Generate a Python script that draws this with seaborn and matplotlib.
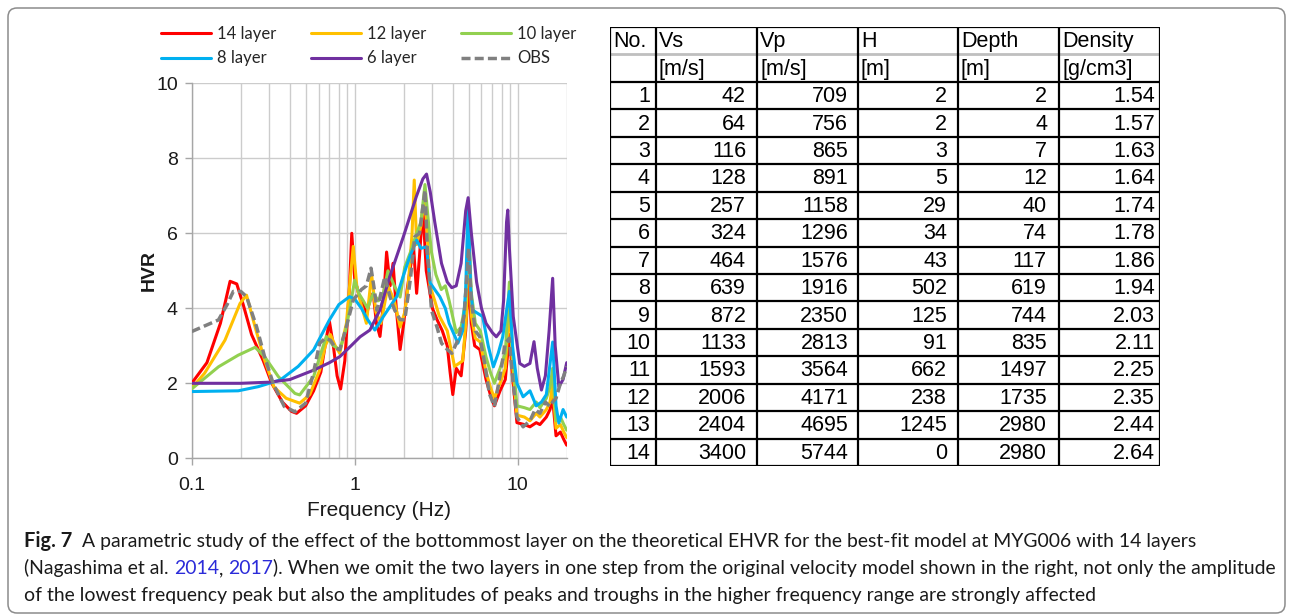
import numpy as np
import pandas as pd
import matplotlib
matplotlib.use("Agg")
import matplotlib.pyplot as plt
import seaborn as sns
from matplotlib import font_manager
from matplotlib.patches import FancyBboxPatch
from matplotlib.transforms import IdentityTransform
from matplotlib.ticker import LogLocator, NullFormatter, FixedLocator

# ---------------- data ----------------
f14 = [0.1, 0.124, 0.15, 0.172, 0.189, 0.207, 0.233, 0.275, 0.31, 0.36, 0.41, 0.44, 0.5, 0.56, 0.62, 0.67, 0.70, 0.74,
       0.78, 0.82, 0.87, 0.93, 0.96, 1.0, 1.07, 1.13, 1.18, 1.25, 1.3, 1.36, 1.43, 1.5, 1.57, 1.65, 1.72, 1.8, 1.9,
       2.0, 2.1, 2.2, 2.3, 2.4, 2.5, 2.62, 2.75, 2.85, 3.0, 3.2, 3.45, 3.7, 3.85, 4.0, 4.2, 4.5, 4.8, 5.0, 5.2, 5.45,
       5.86, 6.4, 6.8, 7.2, 7.8, 8.4, 8.9, 9.3, 9.9, 11.0, 11.9, 13.0, 13.7, 15.0, 15.8, 16.4, 17.2, 18.3, 19.2, 20.0]
hvr14 = [2.0, 2.55, 3.6, 4.72, 4.65, 4.1, 3.3, 2.6, 2.0, 1.5, 1.25, 1.2, 1.4, 1.8, 2.3, 3.2, 3.65, 3.0,
         2.2, 1.85, 2.6, 4.6, 6.0, 4.8, 4.3, 4.1, 3.8, 4.3, 4.4, 3.6, 3.25, 4.1, 5.5, 4.6, 5.2, 4.0, 2.9,
         3.6, 4.5, 5.1, 5.6, 4.4, 5.4, 6.7, 5.0, 4.6, 4.0, 3.7, 3.4, 3.0, 2.3, 1.7, 2.4, 2.2, 3.4, 4.7, 3.6, 3.0,
         2.9, 2.1, 1.7, 1.4, 1.8, 2.1, 3.3, 2.2, 0.95, 0.9, 0.84, 0.95, 0.9, 1.1, 1.3, 1.6, 0.6, 0.7, 0.5, 0.35]

f12 = [0.1, 0.12, 0.16, 0.198, 0.217, 0.245, 0.28, 0.32, 0.38, 0.46, 0.53, 0.61, 0.66, 0.71, 0.76, 0.81, 0.89, 0.94,
       0.98, 1.03, 1.08, 1.18, 1.27, 1.35, 1.45, 1.6, 1.75, 1.9, 2.03, 2.13, 2.25, 2.32, 2.4, 2.55, 2.7, 2.82, 2.9,
       3.1, 3.3, 3.7, 4.1, 4.6, 4.85, 5.0, 5.2, 5.5, 5.9, 6.4, 6.8, 7.2, 7.8, 8.4, 8.9, 9.3, 9.9, 11.0, 11.9, 13.0,
       13.7, 15.0, 15.8, 16.4, 17.2, 18.3, 19.2, 20.0]
hvr12 = [1.87, 2.27, 3.15, 4.13, 4.35, 3.5, 2.62, 1.9, 1.6, 1.47, 1.7, 2.35, 3.0, 3.3, 3.0, 2.8, 3.6, 4.8,
         5.65, 4.6, 4.2, 3.6, 4.9, 3.9, 3.6, 4.6, 4.2, 3.5, 3.9, 4.6, 6.0, 7.42, 5.7, 6.2, 7.05, 5.6, 4.6,
         4.2, 3.8, 3.4, 2.45, 2.6, 3.8, 6.4, 3.8, 3.2, 3.1, 2.3, 1.9, 1.6, 2.0, 2.4, 4.1, 2.5, 1.15, 1.1, 1.0, 1.2,
         1.1, 1.3, 1.5, 2.0, 0.8, 0.9, 0.7, 0.55]

f10 = [0.1, 0.146, 0.193, 0.245, 0.28, 0.34, 0.43, 0.46, 0.56, 0.62, 0.67, 0.74, 0.81, 0.88, 0.93, 1.0, 1.06, 1.13,
       1.2, 1.3, 1.4, 1.5, 1.6, 1.75, 1.9, 2.03, 2.2, 2.4, 2.55, 2.7, 2.85, 2.96, 3.15, 3.4, 3.6, 3.8, 4.2, 4.5,
       4.8, 5.0, 5.2, 5.5, 5.9, 6.4, 6.8, 7.2, 7.8, 8.4, 8.9, 9.3, 9.9, 11.0, 11.9, 13.0, 13.7, 15.0, 15.8, 16.4,
       17.2, 18.3, 19.2, 20.0]
hvr10 = [1.85, 2.44, 2.75, 2.96, 2.71, 2.18, 1.73, 1.69, 2.18, 2.8, 3.25, 3.0, 2.9, 3.4, 3.95, 4.75, 4.4, 4.2,
         4.0, 4.4, 4.2, 4.4, 5.0, 4.6, 4.3, 5.1, 5.5, 6.0, 6.3, 7.3, 6.2, 5.5, 4.9, 4.5, 4.6, 4.2, 3.35, 3.5,
         4.2, 6.1, 4.4, 3.6, 3.4, 2.7, 2.3, 2.0, 2.4, 2.8, 4.7, 2.8, 1.4, 1.35, 1.3, 1.5, 1.35, 1.6, 1.9, 2.4,
         1.0, 1.1, 0.9, 0.75]

f8 = [0.1, 0.193, 0.256, 0.35, 0.45, 0.56, 0.7, 0.8, 0.93, 1.0, 1.1, 1.2, 1.33, 1.5, 1.81, 2.0, 2.18, 2.4, 2.55,
      2.76, 2.91, 3.1, 3.33, 3.6, 3.8, 4.3, 4.6, 4.8, 4.97, 5.15, 5.3, 6.1, 6.6, 7.1, 7.6, 8.1, 8.9, 9.3, 9.9,
      10.8, 11.9, 13.0, 14.0, 15.0, 16.4, 17.2, 17.9, 19.0, 20.0]
hvr8 = [1.78, 1.8, 1.91, 2.09, 2.45, 2.89, 3.69, 4.1, 4.31, 4.25, 4.0, 3.7, 3.42, 3.78, 4.31, 4.9, 5.38, 5.82, 5.6,
        5.64, 4.67, 4.5, 4.31, 4.0, 3.6, 3.07, 3.4, 4.5, 6.85, 4.5, 3.95, 3.78, 3.0, 2.44, 2.8, 3.24, 4.45, 3.0, 2.0,
        1.64, 1.8, 1.4, 1.5, 1.7, 3.1, 1.4, 0.94, 1.3, 1.1]

f6 = [0.1, 0.2, 0.3, 0.4, 0.56, 0.7, 0.81, 0.95, 1.08, 1.24, 1.43, 1.64, 1.99, 2.39, 2.62, 2.76, 2.91, 3.1, 3.41,
      3.7, 3.94, 4.2, 4.5, 4.8, 4.97, 5.2, 5.6, 6.0, 6.4, 7.0, 7.4, 7.9, 8.2, 8.55, 8.7, 8.9, 9.4, 10.3, 11.0,
      11.9, 12.6, 13.2, 14.0, 14.8, 15.6, 16.4, 17.0, 17.9, 19.0, 20.0]
hvr6 = [2.0, 2.0, 2.03, 2.1, 2.35, 2.55, 2.71, 3.0, 3.24, 3.42, 3.96, 4.84, 5.91, 6.98, 7.45, 7.58, 7.1, 6.3, 5.2,
        4.7, 4.55, 4.6, 5.2, 6.6, 6.95, 6.0, 4.7, 4.0, 3.6, 3.35, 3.24, 3.4, 4.2, 6.3, 6.62, 5.6, 3.78, 2.53, 2.45,
        2.53, 3.11, 2.4, 1.82, 2.2, 3.4, 4.8, 3.0, 1.91, 2.1, 2.55]

fobs = [0.1, 0.146, 0.165, 0.18, 0.2, 0.217, 0.25, 0.28, 0.316, 0.37, 0.43, 0.5, 0.56, 0.61, 0.66, 0.71, 0.76, 0.81,
        0.89, 0.98, 1.1, 1.18, 1.26, 1.32, 1.37, 1.45, 1.53, 1.65, 1.76, 1.9, 2.03, 2.2, 2.34, 2.5, 2.7, 2.8, 2.96,
        3.2, 3.41, 3.7, 3.94, 4.3, 4.7, 5.0, 5.2, 5.5, 5.86, 6.3, 6.7, 7.2, 7.8, 8.4, 8.9, 9.1, 9.5, 9.9, 10.8,
        11.9, 12.8, 13.7, 14.8, 15.8, 16.4, 17.2, 18.3, 19.2, 20.0]
hvrobs = [3.38, 3.69, 4.1, 4.45, 4.45, 4.31, 3.51, 2.71, 2.0, 1.38, 1.24, 1.47, 2.3, 3.07, 3.2, 3.15, 2.95, 2.89,
          3.51, 4.22, 4.5, 4.6, 5.07, 4.5, 3.95, 4.4, 4.84, 4.3, 3.95, 3.7, 3.69, 4.8, 5.91, 6.0, 7.15, 5.5, 3.95,
          3.5, 3.07, 2.9, 2.8, 3.15, 3.8, 5.6, 4.2, 3.4, 3.24, 2.5, 1.73, 1.38, 2.2, 3.07, 3.2, 2.6, 1.8, 1.1, 0.84,
          1.0, 1.3, 1.2, 1.5, 1.38, 1.5, 1.6, 2.0, 2.2, 2.45]

series_labels = ["14 layer", "12 layer", "10 layer", "8 layer", "6 layer", "OBS"]
series_colors = ["#FF0000", "#FFC000", "#92D050", "#00B0F0", "#7030A0", "#808080"]

x_ticks = [0.1, 1, 10]
x_ticklabels = ["0.1", "1", "10"]
y_ticks = [0, 2, 4, 6, 8, 10]

tbl_header = ["No.", "Vs", "Vp", "H", "Depth", "Density"]
tbl_units = ["", "[m/s]", "[m/s]", "[m]", "[m]", "[g/cm3]"]
layer_no = [1, 2, 3, 4, 5, 6, 7, 8, 9, 10, 11, 12, 13, 14]
vs = [42, 64, 116, 128, 257, 324, 464, 639, 872, 1133, 1593, 2006, 2404, 3400]
vp = [709, 756, 865, 891, 1158, 1296, 1576, 1916, 2350, 2813, 3564, 4171, 4695, 5744]
thick = [2, 2, 3, 5, 29, 34, 43, 502, 125, 91, 662, 238, 1245, 0]
depth = [2, 4, 7, 12, 40, 74, 117, 619, 744, 835, 1497, 1735, 2980, 2980]
density = ["1.54", "1.57", "1.63", "1.64", "1.74", "1.78", "1.86", "1.94", "2.03", "2.11", "2.25", "2.35", "2.44", "2.64"]

caption_bold = "Fig. 7"
caption_l1 = "A parametric study of the effect of the bottommost layer on the theoretical EHVR for the best-fit model at MYG006 with 14 layers"
caption_l2 = [("(Nagashima et al. ", "k"), ("2014", "link"), (", ", "k"), ("2017", "link"),
              ("). When we omit the two layers in one step from the original velocity model shown in the right, not only the amplitude", "k")]
caption_l3 = "of the lowest frequency peak but also the amplitudes of peaks and troughs in the higher frequency range are strongly affected"

# ---------------- setup ----------------
sns.set_theme(style="white")
plt.rcParams['font.family'] = ['Liberation Sans', 'DejaVu Sans']


def has_font(name):
    try:
        font_manager.findfont(font_manager.FontProperties(family=name), fallback_to_default=False)
        return True
    except Exception:
        return False


TABLE_FONT = "Liberation Sans Narrow" if has_font("Liberation Sans Narrow") else "Liberation Sans"
LEG_FONT = "Lato" if has_font("Lato") else "DejaVu Sans"

W, H = 1293, 614
fig = plt.figure(figsize=(W / 100, H / 100), dpi=100)
fig.patch.set_facecolor("white")


def fx(px):
    return px / W


def fy(py):
    return 1 - py / H


# ---------------- chart ----------------
L, R, T, B = 191.7, 566.7, 83.3, 458.3
ax = fig.add_axes([fx(L), fy(B), (R - L) / W, (B - T) / H])

xs_all = [f14, f12, f10, f8, f6, fobs]
ys_all = [hvr14, hvr12, hvr10, hvr8, hvr6, hvrobs]
for xs, ys, lab, col in zip(xs_all, ys_all, series_labels, series_colors):
    if lab == "OBS":
        sns.lineplot(x=xs, y=ys, ax=ax, color=col, lw=2.5, label=lab, estimator=None, sort=False,
                     linestyle=(0, (2.6, 1.2)), zorder=4)
    else:
        sns.lineplot(x=xs, y=ys, ax=ax, color=col, lw=2.2, label=lab, estimator=None, sort=False, zorder=3)

ax.set_xscale("log")
ax.set_xlim(0.1, 20)
ax.set_ylim(0, 10)
ax.xaxis.set_major_locator(FixedLocator(x_ticks))
ax.set_xticklabels(x_ticklabels)
ax.xaxis.set_minor_locator(LogLocator(base=10, subs=list(range(2, 10))))
ax.xaxis.set_minor_formatter(NullFormatter())
ax.set_yticks(y_ticks)
ax.set_yticklabels([str(v) for v in y_ticks])
grid_c = "#CCCCCC"
ax.grid(True, which="both", axis="x", color=grid_c, lw=1.0, zorder=0)
ax.grid(True, which="major", axis="y", color=grid_c, lw=1.0, zorder=0)
ax.set_axisbelow(True)
for s in ["top", "right"]:
    ax.spines[s].set_visible(False)
for s in ["left", "bottom"]:
    ax.spines[s].set_color("#A6A6A6")
    ax.spines[s].set_linewidth(1.0)
ax.tick_params(axis="both", which="major", direction="out", length=5, width=1, color="#A6A6A6",
               labelsize=14, labelcolor="#1a1a1a", left=True, bottom=True)
ax.tick_params(axis="y", which="major", pad=5)
ax.tick_params(axis="x", which="major", pad=8.5)
ax.tick_params(axis="x", which="minor", length=0)
ax.set_xlabel("Frequency (Hz)", fontsize=15, color="#1a1a1a")
ax.xaxis.set_label_coords(0.5, -0.113)
ax.set_ylabel("HVR", fontsize=14, fontweight="bold", color="#1a1a1a")
ax.yaxis.set_label_coords(-0.09, 0.5)

# legend
handles, labels = ax.get_legend_handles_labels()
ax.get_legend().remove()
order = [0, 3, 1, 4, 2, 5]
fig.legend([handles[i] for i in order], [labels[i] for i in order], ncol=3, frameon=False,
           loc="upper left", bbox_to_anchor=(fx(161), fy(26)), borderpad=0, borderaxespad=0,
           handlelength=3.0, handletextpad=0.35, columnspacing=2.1, labelspacing=0.5,
           prop={"family": LEG_FONT, "size": 12})

# ---------------- table ----------------
TL, TR, TT, TB = 610, 1160, 27, 466
tax = fig.add_axes([fx(TL), fy(TB), (TR - TL) / W, (TB - TT) / H])
tax.set_xlim(0, TR - TL)
tax.set_ylim(TB - TT, 0)
tax.axis("off")
col_edges = [0, 46, 147, 248, 348, 449, 550]
n_rows = 2 + len(layer_no)
rh = (TB - TT) / n_rows
right_pad = [6, 11, 10, 11, 12, 5]
tfs = 15.5

# lines
lw_t = 1.6
for i in range(n_rows + 1):
    y = i * rh
    if i == 1:
        tax.plot([0, 550], [y, y], color="#BFBFBF", lw=2.0, solid_capstyle="butt", zorder=2)
    else:
        tax.plot([0, 550], [y, y], color="black", lw=lw_t, solid_capstyle="projecting", zorder=3)
for xe in col_edges:
    tax.plot([xe, xe], [0, TB - TT], color="black", lw=lw_t, solid_capstyle="projecting", zorder=3)

for j in range(6):
    tax.text(col_edges[j] + 3, 0.5 * rh + 1, tbl_header[j], ha="left", va="center", fontsize=tfs,
             family=TABLE_FONT, color="black")
    if tbl_units[j]:
        tax.text(col_edges[j] + 3, 1.5 * rh + 1, tbl_units[j], ha="left", va="center", fontsize=tfs,
                 family=TABLE_FONT, color="black")

cols = [layer_no, vs, vp, thick, depth, density]
for r in range(len(layer_no)):
    yc = (r + 2.5) * rh + 1
    for j in range(6):
        tax.text(col_edges[j + 1] - right_pad[j], yc, str(cols[j][r]), ha="right", va="center",
                 fontsize=tfs, family=TABLE_FONT, color="black")

# ---------------- caption ----------------
renderer = fig.canvas.get_renderer()
cap_font = LEG_FONT


def text_w(s, size, weight="normal"):
    t = fig.text(0, 0, s + "|", fontsize=size, family=cap_font, fontweight=weight)
    w1 = t.get_window_extent(renderer).width
    t.remove()
    t2 = fig.text(0, 0, "|", fontsize=size, family=cap_font, fontweight=weight)
    w2 = t2.get_window_extent(renderer).width
    t2.remove()
    return w1 - w2


full_l2 = "".join(s for s, _ in caption_l2)
w_ref = text_w(full_l2, 12)
cap_size = 12 * (1270 - 24) / w_ref

x0 = 24
base = [547, 574, 601]
fig.text(fx(x0), fy(base[0]), caption_bold, fontsize=cap_size + 0.5, family=cap_font, fontweight="bold",
         va="baseline", ha="left", color="#1a1a1a")
wb = text_w(caption_bold + "  ", cap_size + 0.5, "bold")
fig.text(fx(x0 + wb), fy(base[0]), caption_l1, fontsize=cap_size, family=cap_font, va="baseline",
         ha="left", color="#1a1a1a")
prefix = ""
for seg, c in caption_l2:
    xo = x0 + (text_w(prefix, cap_size) if prefix else 0)
    fig.text(fx(xo), fy(base[1]), seg, fontsize=cap_size, family=cap_font, va="baseline", ha="left",
             color=("#2B2BD9" if c == "link" else "#1a1a1a"))
    prefix += seg
fig.text(fx(x0), fy(base[2]), caption_l3, fontsize=cap_size, family=cap_font, va="baseline", ha="left",
         color="#1a1a1a")

# ---------------- outer border ----------------
border = FancyBboxPatch((8, 1), 1277, 605, boxstyle="round,pad=0,rounding_size=9",
                        transform=IdentityTransform(), fill=False, ec="#8C8C8C", lw=1.1)
fig.patches.append(border)

fig.savefig("out.png", dpi=100, facecolor="white")
